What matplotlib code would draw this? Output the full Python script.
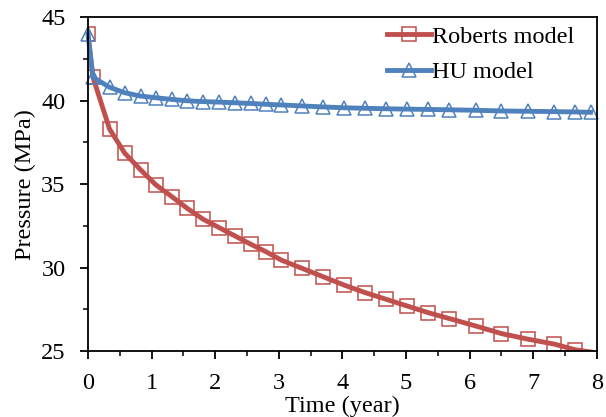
import matplotlib
matplotlib.use('Agg')
import matplotlib.pyplot as plt
from matplotlib.ticker import MultipleLocator

plt.rcParams['font.family'] = ['Liberation Serif', 'DejaVu Serif']

# marker positions (year)
t = [0, 0.08, 0.34, 0.58, 0.83, 1.07, 1.32, 1.56, 1.81, 2.06, 2.31, 2.56, 2.80,
     3.04, 3.37, 3.70, 4.03, 4.36, 4.69, 5.02, 5.35, 5.68, 6.10, 6.50, 6.91,
     7.33, 7.66, 7.90]
roberts = [44.0, 41.4, 38.3, 36.85, 35.85, 34.95, 34.25, 33.55, 32.9, 32.4,
           31.9, 31.4, 30.95, 30.45, 29.95, 29.45, 28.95, 28.5, 28.1, 27.7,
           27.3, 26.95, 26.5, 26.05, 25.72, 25.42, 25.08, 24.95]
hu = [44.0, 41.4, 40.8, 40.47, 40.27, 40.17, 40.07, 39.99, 39.94, 39.91,
      39.87, 39.83, 39.78, 39.74, 39.68, 39.62, 39.57, 39.54, 39.51, 39.49,
      39.47, 39.45, 39.42, 39.38, 39.36, 39.34, 39.32, 39.30]

red = '#C0504D'
blue = '#4F81BD'

fig = plt.figure(figsize=(6.06, 4.17), dpi=100)
ax = fig.add_axes([0.145, 0.158, 0.84, 0.801])

ax.plot(t, roberts, color=red, lw=3.5, marker='s', ms=10, mfc='none',
        mec=red, mew=1.1, markevery=list(range(len(t) - 1)),
        label='Roberts model')
ax.plot(t, hu, color=blue, lw=3.5, marker='^', ms=10, mfc='none',
        mec=blue, mew=1.1, label='HU model', clip_on=False)

ax.set_xlim(0, 8)
ax.set_ylim(25, 45)
ax.xaxis.set_major_locator(MultipleLocator(1))
ax.xaxis.set_minor_locator(MultipleLocator(0.5))
ax.yaxis.set_major_locator(MultipleLocator(5))
ax.yaxis.set_minor_locator(MultipleLocator(2.5))
ax.tick_params(which='major', direction='out', length=6, width=1.3,
               labelsize=17.5, pad=10)
ax.tick_params(which='minor', direction='out', length=3.5, width=1.1)
for s in ax.spines.values():
    s.set_linewidth(1.3)

ax.set_xlabel('Time (year)', fontsize=17.5, labelpad=1)
ax.set_ylabel('Pressure (MPa)', fontsize=17.5, labelpad=4)

ax.legend(loc='upper right', frameon=False, fontsize=17.5, handlelength=1.8,
          handletextpad=0.05, borderaxespad=0.1, labelspacing=0.55,
          bbox_to_anchor=(0.98, 1.01))

fig.savefig('out.png', dpi=100)
